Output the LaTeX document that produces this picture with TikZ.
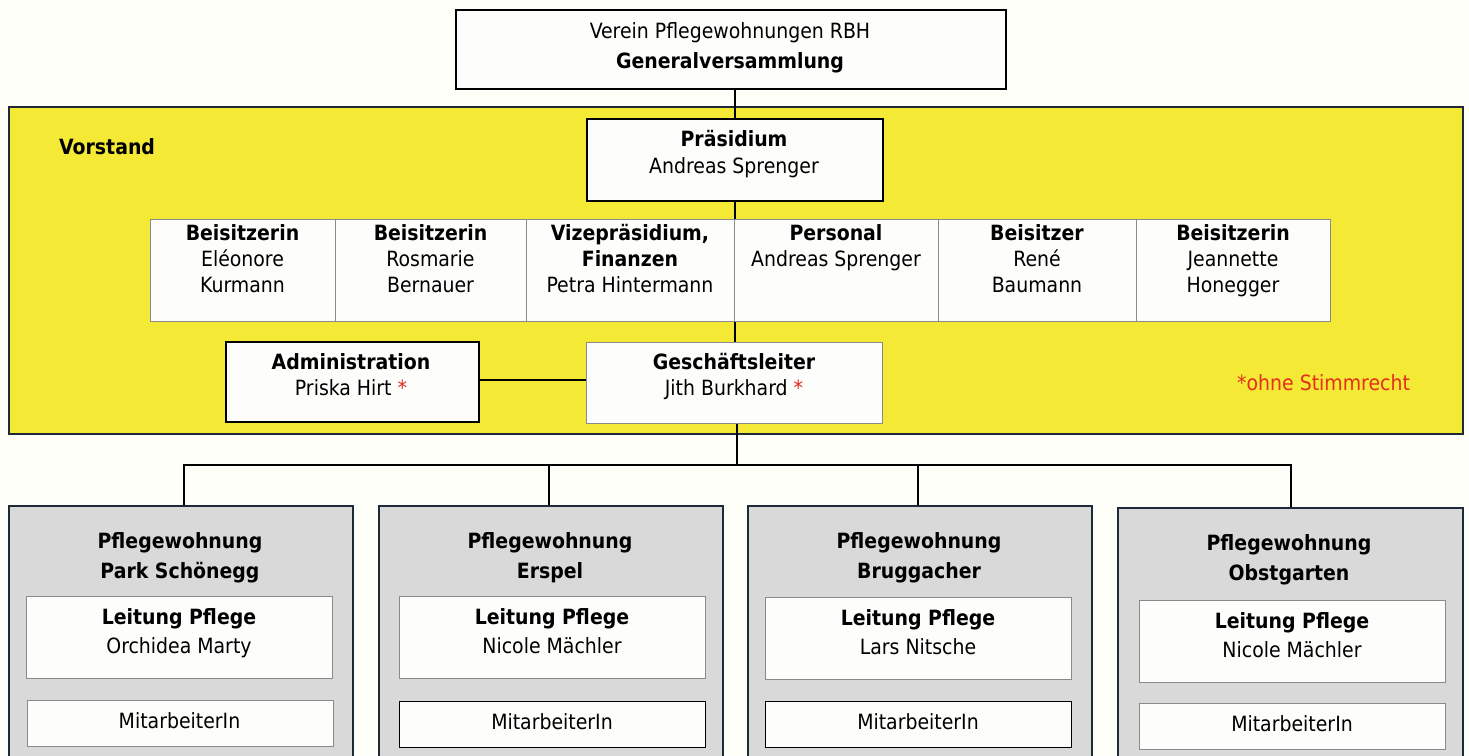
\documentclass[tikz,border=0pt]{standalone}
\usepackage{fontspec}
\setmainfont{DejaVu Sans Condensed}
\definecolor{vyellow}{HTML}{F4E935}
\definecolor{vborder}{HTML}{1E2A38}
\definecolor{pgray}{HTML}{D9D9D9}
\definecolor{boxwhite}{HTML}{FDFDFB}
\definecolor{thingray}{HTML}{8A8A8A}
\definecolor{vred}{HTML}{E0261E}
\begin{document}
\begin{tikzpicture}[x=1pt,y=-1pt,
  darkbox/.style={draw=black, line width=1.5pt, fill=boxwhite, inner sep=0pt, anchor=north west},
  rowbox/.style={draw=thingray, line width=0.9pt, fill=boxwhite, inner sep=0pt, anchor=north west, minimum width=#1, minimum height=102pt},
  pwbox/.style={draw=vborder, line width=1.8pt, fill=pgray, inner sep=0pt, anchor=north west, minimum width=344pt, minimum height=270pt},
  leitbox/.style={draw=thingray, line width=1.2pt, fill=boxwhite, inner sep=0pt, anchor=north west, minimum width=306pt, minimum height=82pt},
  mabox/.style={draw=#1, line width=1.3pt, fill=boxwhite, inner sep=0pt, anchor=north west, minimum width=306pt, minimum height=46pt},
  txt/.style={align=center, inner sep=0pt, anchor=base, font=\fontsize{21}{26}\selectfont},
  txtw/.style={align=center, inner sep=0pt, anchor=base, font=\fontsize{21}{30}\selectfont},
  conn/.style={draw=black, line width=1.8pt}]
\useasboundingbox (0,0) rectangle (1469,755);
\clip (0,0) rectangle (1469,755);
\fill[white!98!yellow] (0,0) rectangle (1469,755);

% Generalversammlung
\node[darkbox, line width=1.8pt, minimum width=550pt, minimum height=79pt] (gv) at (455,9) {};
\node[txtw] (gvt) at (730,68.5) {Verein Pflegewohnungen RBH\\\textbf{Generalversammlung}};

% Vorstand area
\node[draw=vborder, line width=1.8pt, fill=vyellow, inner sep=0pt, anchor=north west, minimum width=1454pt, minimum height=327pt] (vorstand) at (8,106) {};
\node[txt, anchor=base west] (vorstandt) at (59,154.5) {\textbf{Vorstand}};

% Praesidium
\node[darkbox, minimum width=296pt, minimum height=82pt] (pres) at (586,118) {};
\node[txt, font=\fontsize{21}{27}\selectfont] (prest) at (734,173.5) {\textbf{Präsidium}\\Andreas Sprenger};

% Row of six
\node[rowbox=185pt] (r1) at (150,219) {};
\node[rowbox=191pt] (r2) at (335,219) {};
\node[rowbox=208pt] (r3) at (526,219) {};
\node[rowbox=204pt] (r4) at (734,219) {};
\node[rowbox=198pt] (r5) at (938,219) {};
\node[rowbox=194pt] (r6) at (1136,219) {};
\node[txt] (r1t) at (242.5,292.5) {\textbf{Beisitzerin}\\Eléonore\\Kurmann};
\node[txt] (r2t) at (430.5,292.5) {\textbf{Beisitzerin}\\Rosmarie\\Bernauer};
\node[txt] (r3t) at (630,292.5) {\textbf{Vizepräsidium,}\\\textbf{Finanzen}\\Petra Hintermann};
\node[txt] (r4t) at (836,266.5) {\textbf{Personal}\\Andreas Sprenger};
\node[txt] (r5t) at (1037,292.5) {\textbf{Beisitzer}\\René\\Baumann};
\node[txt] (r6t) at (1233,292.5) {\textbf{Beisitzerin}\\Jeannette\\Honegger};

% Administration and Geschaeftsleiter
\node[darkbox, minimum width=253pt, minimum height=80pt] (adm) at (225,341) {};
\node[txt] (admt) at (351,395.5) {\textbf{Administration}\\Priska Hirt \textcolor{vred}{*}};
\node[rowbox=296pt, minimum height=81pt, line width=1.2pt] (gl) at (586,342) {};
\node[txt] (glt) at (734,395.5) {\textbf{Geschäftsleiter}\\Jith Burkhard \textcolor{vred}{*}};
\node[txt, anchor=base west, text=vred!90!orange] (ohne) at (1237,390.5) {*ohne Stimmrecht};

% Pflegewohnungen
\node[pwbox] (p1) at (8,505) {};
\node[pwbox] (p2) at (378,505) {};
\node[pwbox] (p3) at (747,505) {};
\node[pwbox, minimum width=345pt] (p4) at (1117,507) {};
\node[txtw, font=\fontsize{21}{30}\selectfont\bfseries] (p1t) at (180,578.5) {Pflegewohnung\\Park Schönegg};
\node[txtw, font=\fontsize{21}{30}\selectfont\bfseries] (p2t) at (550,578.5) {Pflegewohnung\\Erspel};
\node[txtw, font=\fontsize{21}{30}\selectfont\bfseries] (p3t) at (919,578.5) {Pflegewohnung\\Bruggacher};
\node[txtw, font=\fontsize{21}{30}\selectfont\bfseries] (p4t) at (1289,580.5) {Pflegewohnung\\Obstgarten};

\node[leitbox] (l1) at (26,596) {};
\node[leitbox] (l2) at (399,596) {};
\node[leitbox] (l3) at (765,597) {};
\node[leitbox] (l4) at (1139,600) {};
\node[txtw, font=\fontsize{21}{29}\selectfont] (l1t) at (179,653.5) {\textbf{Leitung Pflege}\\Orchidea Marty};
\node[txtw, font=\fontsize{21}{29}\selectfont] (l2t) at (552,653.5) {\textbf{Leitung Pflege}\\Nicole Mächler};
\node[txtw, font=\fontsize{21}{29}\selectfont] (l3t) at (918,654) {\textbf{Leitung Pflege}\\Lars Nitsche};
\node[txtw, font=\fontsize{21}{29}\selectfont] (l4t) at (1292,657.5) {\textbf{Leitung Pflege}\\Nicole Mächler};

\node[mabox=thingray] (m1) at (27,700) {};
\node[mabox=black] (m2) at (399,701) {};
\node[mabox=black] (m3) at (765,701) {};
\node[mabox=thingray] (m4) at (1139,703) {};
\node[txt] (m1t) at (179.5,728.5) {MitarbeiterIn};
\node[txt] (m2t) at (552,729) {MitarbeiterIn};
\node[txt] (m3t) at (918,729) {MitarbeiterIn};
\node[txt] (m4t) at (1292,731) {MitarbeiterIn};

% Connectors
\coordinate (bus) at (737,465);
\draw[conn] (gv.south -| pres.north) -- (pres.north);
\draw[conn] (pres.south) -- (pres.south |- r4.north);
\draw[conn] (pres.south |- r4.south) -- (pres.south |- gl.north);
\draw[conn] (adm.east |- 0,380) -- (gl.west |- 0,380);
\draw[conn] (bus |- gl.south) -- (bus);
\draw[conn] (184,505) |- (bus) -| (1291,507);
\draw[conn] (p2.north -| 549,0) -- (549,465);
\draw[conn] (p3.north -| 918,0) -- (918,465);
\end{tikzpicture}
\end{document}
